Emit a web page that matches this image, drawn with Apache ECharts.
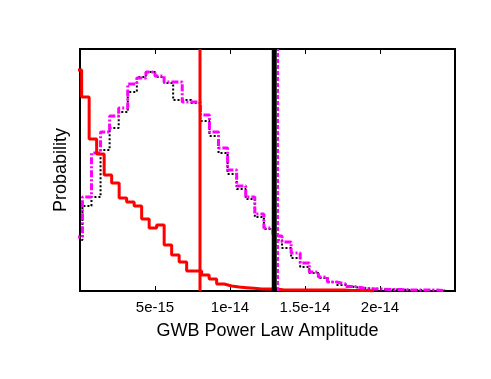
<!DOCTYPE html>
<html>
<head>
<meta charset="utf-8">
<script src="https://cdn.jsdelivr.net/npm/echarts@6/dist/echarts.min.js"></script>
<style>
  html, body { margin: 0; padding: 0; background: #ffffff; }
  #chart { width: 491px; height: 379px; }
</style>
</head>
<body>
<div id="chart"></div>
<script>
// amplitudes are kept in units of 1e-15
const tickValues = [5, 10, 15, 20];
const tickLabels = ['5e-15', '1e-14', '1.5e-14', '2e-14'];

// red: solid histogram
const redStart = -0.39;
const redWidth = 0.5;
const redProb = [1.005, 0.882, 0.691, 0.623, 0.527, 0.491, 0.423, 0.405, 0.386, 0.327,
  0.286, 0.300, 0.209, 0.164, 0.132, 0.091, 0.091, 0.073, 0.055, 0.032,
  0.023, 0.018, 0.015, 0.012, 0.009, 0.009, 0.009, 0.005, 0.005, 0.005,
  0.005, 0.005, 0.005, 0.005, 0.005, 0.005, 0.002, 0.002, 0.002, 0];

// black dotted and magenta dash-dot histograms share the binning
const histStart = -0.445;
const histWidth = 0.605;
const blackProb = [0.232, 0.386, 0.427, 0.641, 0.741, 0.814, 0.905, 0.973, 0.995, 0.973,
  0.945, 0.868, 0.868, 0.855, 0.773, 0.705, 0.627, 0.532, 0.464, 0.418,
  0.336, 0.282, 0.232, 0.195, 0.150, 0.109, 0.082, 0.059, 0.041, 0.027,
  0.018, 0.014, 0.011, 0.009, 0.007, 0.007, 0.005, 0.005, 0.005, 0.002, 0.002];
const magentaProb = [0.245, 0.427, 0.627, 0.723, 0.795, 0.832, 0.941, 0.968, 0.995, 0.977,
  0.950, 0.950, 0.859, 0.859, 0.800, 0.723, 0.650, 0.550, 0.477, 0.427,
  0.350, 0.286, 0.250, 0.223, 0.173, 0.127, 0.086, 0.064, 0.041, 0.032,
  0.020, 0.014, 0.009, 0.009, 0.007, 0.007, 0.005, 0.005, 0.005, 0.005, 0.002];

// vertical markers
const redLine = 8.0;
const blackLine = 12.95;
const magentaLine = 13.2;

const xMin = 0, xMax = 25, yMax = 1.1;

const FONT = "'Liberation Sans', Arial, sans-serif";

function steps(start, width, probs) {
  const pts = probs.map((p, i) => [start + i * width, p]);
  pts.push([start + probs.length * width, 0]);
  return pts;
}

function vline(x) {
  return [[x, 0], [x, yMax]];
}

function tickText(v) {
  const i = tickValues.findIndex(t => Math.abs(t - v) < 1e-6);
  return i >= 0 ? tickLabels[i] : '';
}

const chart = echarts.init(document.getElementById('chart'));

const histLine = (name, data, color, width, type) => ({
  name: name,
  type: 'line',
  step: 'end',
  data: data,
  symbol: 'none',
  clip: true,
  lineStyle: { color: color, width: width, type: type },
  animation: false
});

chart.setOption({
  backgroundColor: '#ffffff',
  animation: false,
  grid: {
    left: 80, top: 49, width: 375, height: 242,
    show: true, borderColor: '#000', borderWidth: 2, backgroundColor: 'transparent'
  },
  xAxis: [
    {
      type: 'value', min: xMin, max: xMax, interval: 5,
      position: 'bottom',
      name: 'GWB Power Law Amplitude',
      nameLocation: 'middle', nameGap: 31,
      nameTextStyle: { fontFamily: FONT, fontSize: 18, color: '#000' },
      axisLine: { show: false },
      axisTick: { show: true, inside: true, length: 5, lineStyle: { color: '#000', width: 1 } },
      axisLabel: { formatter: tickText, fontFamily: FONT, fontSize: 15, color: '#000', margin: 9 },
      splitLine: { show: false }
    },
    {
      type: 'value', min: xMin, max: xMax, interval: 5,
      position: 'top',
      axisLine: { show: false },
      axisTick: { show: true, inside: true, length: 5, lineStyle: { color: '#000', width: 1 } },
      axisLabel: { show: false },
      splitLine: { show: false }
    }
  ],
  yAxis: {
    type: 'value', min: 0, max: yMax,
    name: 'Probability',
    nameLocation: 'middle', nameGap: 10, nameRotate: 90,
    nameTextStyle: { fontFamily: FONT, fontSize: 18, color: '#000' },
    axisLine: { show: false },
    axisTick: { show: false },
    axisLabel: { show: false },
    splitLine: { show: false }
  },
  series: [
    histLine('black', steps(histStart, histWidth, blackProb), '#000000', 2, [2, 2]),
    histLine('magenta', steps(histStart, histWidth, magentaProb), '#ff00ff', 3, [7, 2, 2, 2]),
    histLine('red', steps(redStart, redWidth, redProb), '#ff0000', 3, 'solid'),
    { type: 'line', data: vline(redLine), symbol: 'none', lineStyle: { color: '#ff0000', width: 3 } },
    { type: 'line', data: vline(blackLine), symbol: 'none', lineStyle: { color: '#000000', width: 5 } },
    { type: 'line', data: vline(magentaLine), symbol: 'none', lineStyle: { color: '#ff00ff', width: 2, type: [4, 2] } }
  ]
});
</script>
</body>
</html>
